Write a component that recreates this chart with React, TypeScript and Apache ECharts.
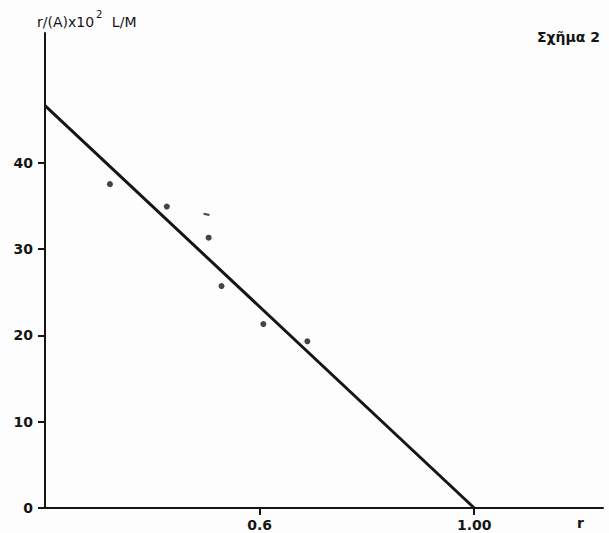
import React, { useEffect, useRef } from "react";
import * as echarts from "echarts";

// Data
const lineData: [number, number][] = [
  [0.2, 46.6],
  [1.0, 0],
];
const pointData: [number, number][] = [
  [0.321, 37.5],
  [0.427, 34.9],
  [0.505, 31.3],
  [0.529, 25.7],
  [0.607, 21.3],
  [0.689, 19.3],
];
const dashData: [number, number][] = [[0.501, 34.0]];
const xTickValues = [0.6, 1.0];
const xTickLabels = ["0.6", "1.00"];
const yTickValues = [0, 10, 20, 30, 40];
const yTickLabels = ["0", "10", "20", "30", "40"];

const INK = "#151515";

export default function App() {
  const ref = useRef<HTMLDivElement>(null);
  useEffect(() => {
    if (!ref.current) return;
    const chart = echarts.init(ref.current, undefined, { renderer: "svg" });
    const labelFont = {
      color: INK,
      fontFamily: "DejaVu Sans, sans-serif",
      fontSize: 14,
      fontWeight: "bold" as any,
    };
    chart.setOption({
      animation: false,
      backgroundColor: "#fdfdfd",
      grid: { left: 45, top: 33, right: 6, bottom: 25, containLabel: false },
      xAxis: {
        type: "value",
        min: 0.2,
        max: 1.24,
        splitLine: { show: false },
        axisLine: { show: true, lineStyle: { color: INK, width: 2 } },
        axisTick: {
          show: true,
          customValues: xTickValues,
          length: 7,
          lineStyle: { color: INK, width: 2 },
        },
        axisLabel: {
          ...labelFont,
          customValues: xTickValues,
          margin: 10,
          formatter: (v: number) => {
            let best = 0;
            xTickValues.forEach((t, i) => {
              if (Math.abs(t - v) < Math.abs(xTickValues[best] - v)) best = i;
            });
            return xTickLabels[best];
          },
        },
      },
      yAxis: {
        type: "value",
        min: 0,
        max: 55,
        splitLine: { show: false },
        axisLine: { show: true, lineStyle: { color: INK, width: 2 } },
        axisTick: {
          show: true,
          customValues: yTickValues,
          length: 7,
          lineStyle: { color: INK, width: 2 },
        },
        axisLabel: {
          ...labelFont,
          customValues: yTickValues,
          margin: 12,
          formatter: (v: number) => {
            const i = yTickValues.indexOf(Math.round(v));
            return i >= 0 ? yTickLabels[i] : "";
          },
        },
      },
      series: [
        {
          type: "line",
          data: lineData,
          symbol: "none",
          lineStyle: { color: INK, width: 3 },
          z: 3,
        },
        {
          type: "scatter",
          data: pointData,
          symbol: "circle",
          symbolSize: 6,
          itemStyle: { color: INK },
          z: 4,
        },
        {
          type: "scatter",
          data: dashData,
          symbol: "rect",
          symbolSize: [6, 2],
          symbolRotate: -12,
          itemStyle: { color: INK },
          z: 4,
        },
      ],
      graphic: [
        {
          type: "text",
          left: 37,
          top: 9,
          style: {
            text: "{a|r/(A)x10}{b|2}{a| L/M}",
            rich: {
              a: {
                fontFamily: "DejaVu Sans, sans-serif",
                fontSize: 14,
                fill: INK,
                verticalAlign: "bottom",
                lineHeight: 20,
              },
              b: {
                fontFamily: "DejaVu Sans, sans-serif",
                fontSize: 10,
                fill: INK,
                verticalAlign: "top",
                padding: [0, 5, 6, 2],
                lineHeight: 20,
              },
            },
          },
        },
        {
          type: "text",
          left: 537,
          top: 30,
          style: {
            text: "Σχῆμα 2",
            fontFamily: "DejaVu Sans, sans-serif",
            fontWeight: "bold",
            fontSize: 14,
            fill: INK,
          },
        },
        {
          type: "text",
          left: 577,
          top: 516,
          style: {
            text: "r",
            fontFamily: "DejaVu Sans, sans-serif",
            fontWeight: "bold",
            fontSize: 14,
            fill: INK,
          },
        },
      ],
    });
    return () => chart.dispose();
  }, []);
  return (
    <div
      ref={ref}
      style={{ position: "fixed", left: 0, top: 0, width: 609, height: 533 }}
    />
  );
}
